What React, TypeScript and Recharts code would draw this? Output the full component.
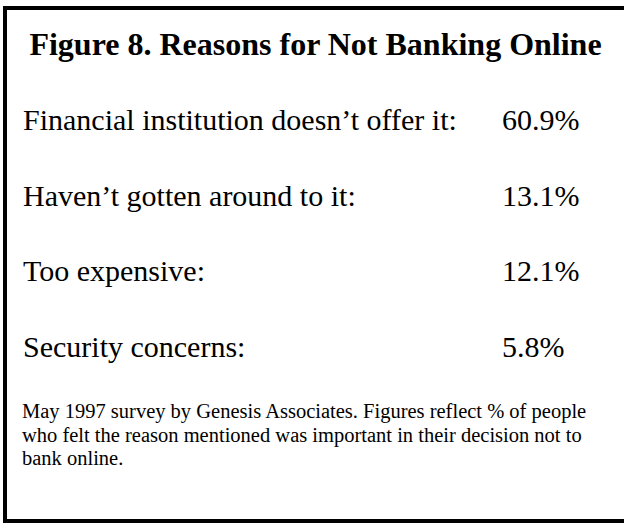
import React from "react";
import { ComposedChart, Bar, XAxis, YAxis } from "recharts";

const reasons = [
  "Financial institution doesn’t offer it:",
  "Haven’t gotten around to it:",
  "Too expensive:",
  "Security concerns:",
];
const shares = [60.9, 13.1, 12.1, 5.8];

const title = "Figure 8. Reasons for Not Banking Online";
const note =
  "May 1997 survey by Genesis Associates. Figures reflect % of people who felt the reason mentioned was important in their decision not to bank online.";

const data = reasons.map((reason, i) => ({
  reason,
  value: shares[i],
  pct: `${shares[i].toFixed(1)}%`,
}));

const serif = "'Liberation Serif', 'Times New Roman', serif";

const RowTick = (props: any) => {
  const { x, y, payload } = props;
  return (
    <text
      x={x}
      y={y}
      dy={10}
      textAnchor="start"
      fill="#000"
      style={{ fontFamily: serif, fontSize: 30, fontWeight: "normal" }}
    >
      {payload.value}
    </text>
  );
};

export default function App() {
  return (
    <div
      style={{
        position: "absolute",
        left: 0,
        top: 0,
        width: 624,
        height: 523,
        overflow: "hidden",
        background: "#fff",
        fontFamily: serif,
        color: "#000",
      }}
    >
      <div
        style={{
          position: "absolute",
          left: 3,
          top: 6,
          width: 640,
          height: 517,
          boxSizing: "border-box",
          borderTop: "4px solid #000",
          borderLeft: "4px solid #000",
          borderBottom: "4px solid #000",
        }}
      />
      <div
        style={{
          position: "absolute",
          left: 7,
          top: 28,
          width: 617,
          textAlign: "center",
          fontWeight: "bold",
          fontSize: 32,
          lineHeight: "32px",
          whiteSpace: "nowrap",
        }}
      >
        {title}
      </div>
      <div style={{ position: "absolute", left: 0, top: 0 }}>
        <ComposedChart
          width={624}
          height={400}
          data={data}
          layout="vertical"
          margin={{ top: 82, right: 121, bottom: 15, left: 22 }}
        >
          <XAxis type="number" hide domain={[0, 100]} />
          <YAxis
            yAxisId="reason"
            type="category"
            dataKey="reason"
            orientation="left"
            width={1}
            axisLine={false}
            tickLine={false}
            tickSize={0}
            tickMargin={0}
            interval={0}
            tick={(p: any) => <RowTick {...p} />}
          />
          <YAxis
            yAxisId="pct"
            type="category"
            dataKey="pct"
            orientation="right"
            width={1}
            axisLine={false}
            tickLine={false}
            tickSize={0}
            tickMargin={0}
            interval={0}
            tick={(p: any) => <RowTick {...p} />}
          />
          <Bar yAxisId="reason" dataKey="value" fill="#fff" fillOpacity={0} isAnimationActive={false} />
        </ComposedChart>
      </div>
      <div
        style={{
          position: "absolute",
          left: 22,
          top: 400,
          width: 580,
          fontSize: 20.5,
          lineHeight: "23.5px",
        }}
      >
        {note}
      </div>
    </div>
  );
}
